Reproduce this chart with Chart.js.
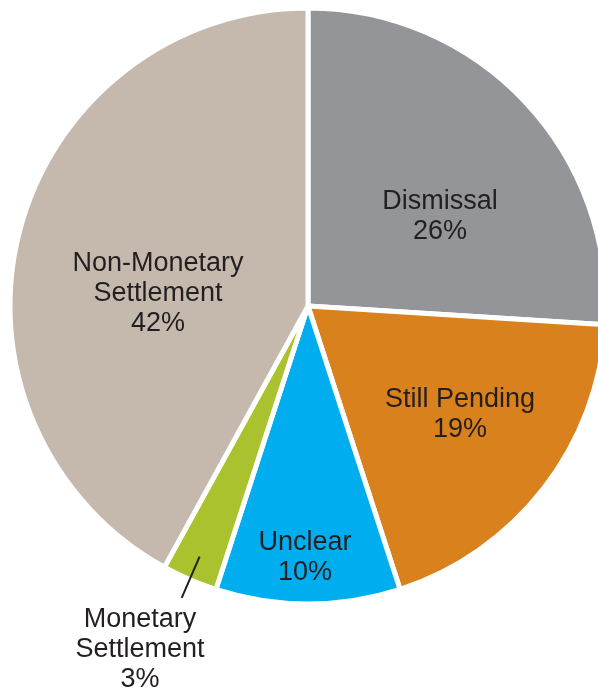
<!DOCTYPE html>
<html lang="en">
<head>
<meta charset="UTF-8">
<title>Outcomes</title>
<script src="https://cdn.jsdelivr.net/npm/chart.js"></script>
<style>
    html, body { margin: 0; padding: 0; background: #fff; overflow: hidden; }
    .wrap { position: absolute; left: 0; top: 0; width: 616px; height: 690px; }
</style>
</head>
<body>

<div class="wrap">
    <canvas id="pieChart"></canvas>
</div>

<script>
    const categories = ['Dismissal', 'Still Pending', 'Unclear', 'Monetary Settlement', 'Non-Monetary Settlement'];
    const shares = [26, 19, 10, 3, 42];
    const sliceColors = ['#939598', '#d8811d', '#00aeef', '#a9c22e', '#c5b9ae'];

    // label text lines and where each label sits, relative to the pie centre
    const labelLines = [
        ['Dismissal'],
        ['Still Pending'],
        ['Unclear'],
        ['Monetary', 'Settlement'],
        ['Non-Monetary', 'Settlement']
    ];
    const labelOffsets = [
        [132, -97],
        [152, 101],
        [-3, 244],
        [-168, 321],
        [-150, -35]
    ];

    // leader line for the tiny slice, along its middle angle
    const leaderFor = 3;
    const leaderFrom = 273;
    const leaderTo = 318;

    const sliceLabels = {
        id: 'sliceLabels',
        afterDraw(chart) {
            const ctx = chart.ctx;
            const arcs = chart.getDatasetMeta(0).data;
            ctx.save();
            ctx.font = '27px "Liberation Sans", Arial, sans-serif';
            ctx.fillStyle = '#231f20';
            ctx.textAlign = 'center';
            ctx.textBaseline = 'alphabetic';

            arcs.forEach((arc, i) => {
                const x = arc.x + labelOffsets[i][0];
                let y = arc.y + labelOffsets[i][1];
                const lines = labelLines[i].concat([shares[i] + '%']);
                lines.forEach((line) => {
                    ctx.fillText(line, x, y);
                    y += 30;
                });
            });

            const a = arcs[leaderFor];
            const mid = (a.startAngle + a.endAngle) / 2;
            ctx.strokeStyle = '#231f20';
            ctx.lineWidth = 2;
            ctx.beginPath();
            ctx.moveTo(a.x + Math.cos(mid) * leaderFrom, a.y + Math.sin(mid) * leaderFrom);
            ctx.lineTo(a.x + Math.cos(mid) * leaderTo, a.y + Math.sin(mid) * leaderTo);
            ctx.stroke();
            ctx.restore();
        }
    };

    new Chart(document.getElementById('pieChart'), {
        type: 'pie',
        data: {
            labels: categories,
            datasets: [{
                data: shares,
                backgroundColor: sliceColors,
                borderColor: '#ffffff',
                borderWidth: 5
            }]
        },
        options: {
            responsive: true,
            maintainAspectRatio: false,
            animation: false,
            radius: 298,
            layout: { padding: { top: 0, bottom: 78, left: 0, right: 0 } },
            plugins: {
                legend: { display: false },
                tooltip: { enabled: false }
            }
        },
        plugins: [sliceLabels]
    });
</script>

</body>
</html>
